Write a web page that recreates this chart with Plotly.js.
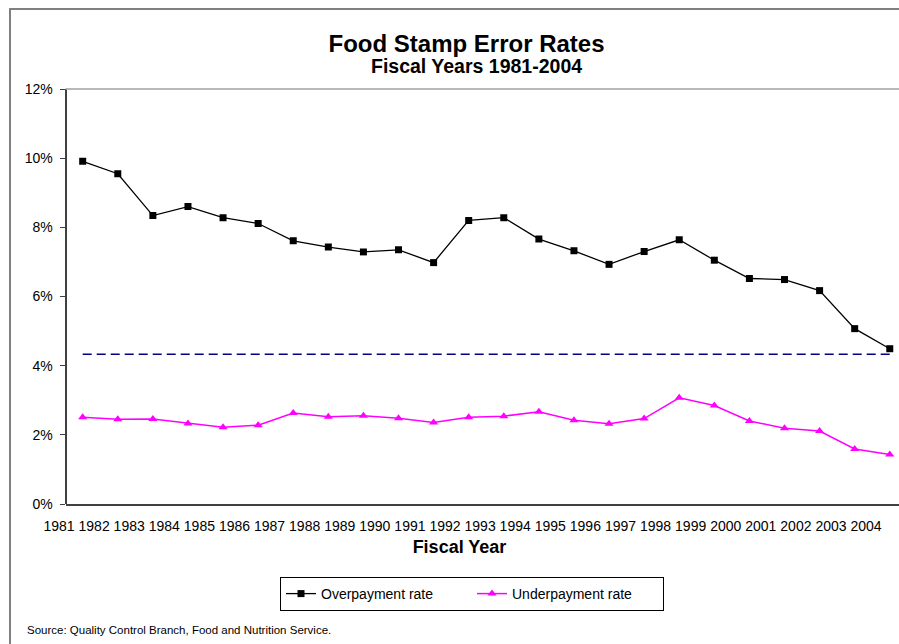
<!DOCTYPE html>
<html>
<head>
<meta charset="utf-8">
<script src="https://cdn.plot.ly/plotly-3.0.1.min.js"></script>
<style>html,body{margin:0;padding:0;background:#fff;}#chart{width:899px;height:644px;}</style>
</head>
<body>
<div id="chart"></div>
<script>
// ---- data ----
var years = [1981,1982,1983,1984,1985,1986,1987,1988,1989,1990,1991,1992,
             1993,1994,1995,1996,1997,1998,1999,2000,2001,2002,2003,2004];
var overpayment = [9.91,9.55,8.34,8.60,8.28,8.11,7.61,7.43,7.29,7.35,6.98,8.20,
                   8.28,7.66,7.32,6.93,7.30,7.64,7.05,6.52,6.49,6.17,5.07,4.49];
var underpayment = [2.51,2.45,2.46,2.33,2.22,2.28,2.63,2.52,2.55,2.48,2.36,2.51,
                    2.54,2.67,2.42,2.32,2.47,3.07,2.85,2.40,2.19,2.11,1.59,1.43];
var referenceLevel = 4.33;
var tickLabels = years.map(String);
var yTicks = [0,2,4,6,8,10,12];
var yTickText = ['0%','2%','4%','6%','8%','10%','12%'];

var font = "Liberation Sans, Arial, sans-serif";

var traces = [
  {x: [years[0], years[years.length-1]], y: [referenceLevel, referenceLevel],
   mode: 'lines', line: {color: '#000080', width: 1.5, dash: '9px,5px'},
   showlegend: false, hoverinfo: 'skip'},
  {x: years, y: overpayment, name: 'Overpayment rate', mode: 'lines+markers',
   line: {color: '#000000', width: 1.3},
   marker: {symbol: 'square', size: 7, color: '#000000'}},
  {x: years, y: underpayment, name: 'Underpayment rate', mode: 'lines+markers',
   line: {color: '#FF00FF', width: 1.5},
   marker: {symbol: 'triangle-up', size: 8, color: '#FF00FF'}},
  {x: [years[0]], y: [0], xaxis: 'x2', yaxis: 'y', mode: 'markers',
   marker: {opacity: 0}, showlegend: false, hoverinfo: 'skip'}
];

var layout = {
  width: 899, height: 644,
  margin: {l: 10, r: 0, t: 89, b: 140},
  paper_bgcolor: '#ffffff', plot_bgcolor: 'rgba(0,0,0,0)',
  font: {family: font, color: '#000000'},
  showlegend: true,
  xaxis: {
    domain: [0.06243, 1], range: [1980.51, 2004.263],
    showgrid: false, zeroline: false, showticklabels: false, ticks: '',
    showline: true, linecolor: '#404040', linewidth: 2
  },
  xaxis2: {
    domain: [0.01125, 1], range: [1979.213, 2004.263], anchor: 'y',
    showgrid: false, zeroline: false, showline: false, ticks: '',
    tickmode: 'array', tickvals: years.map(function(v){return v - 0.675;}), ticktext: tickLabels,
    tickangle: 0,
    tickfont: {family: font, size: 14, color: '#000'}, ticklabelstandoff: 12,
    title: {text: '<b>Fiscal Year</b>', font: {family: font, size: 18, color: '#000'}, standoff: 7}
  },
  yaxis: {
    anchor: 'free', position: 0.06243, range: [0, 12],
    tickmode: 'array', tickvals: yTicks, ticktext: yTickText,
    showgrid: false, zeroline: false,
    showline: true, linecolor: '#404040', linewidth: 2,
    ticks: 'outside', ticklen: 5, tickcolor: '#404040', tickwidth: 1,
    tickfont: {family: font, size: 14, color: '#000'}, ticklabelstandoff: 4
  },
  title: {text: '<b>Food Stamp Error Rates</b>', font: {family: font, size: 24, color: '#000'},
          x: 466.5/899, xanchor: 'center', xref: 'container', y: 1 - 35/644, yanchor: 'top', yref: 'container'},
  annotations: [
    {text: '<b>Fiscal Years 1981-2004</b>', xref: 'paper', yref: 'paper',
     x: (476-10)/889, y: (504-66)/415, xanchor: 'center', yanchor: 'middle', showarrow: false,
     font: {family: font, size: 19.5, color: '#000'}},
    {text: 'Source: Quality Control Branch, Food and Nutrition Service.', xref: 'paper', yref: 'paper',
     x: (25-10)/889, y: (504-630)/415, xanchor: 'left', yanchor: 'middle', showarrow: false,
     font: {family: font, size: 11.5, color: '#000'}}
  ],
  legend: {
    orientation: 'h', x: (280-10)/889, y: (504-577)/415, xanchor: 'left', yanchor: 'top',
    bordercolor: '#000000', borderwidth: 1, bgcolor: '#ffffff',
    font: {family: font, size: 14, color: '#000'}, entrywidth: 146, itemwidth: 30
  },
  shapes: [
    {type: 'line', xref: 'paper', yref: 'paper', x0: 0.06243, x1: 1.01, y0: 1, y1: 1,
     line: {color: '#a0a0a0', width: 1.5}},
    {type: 'line', xref: 'paper', yref: 'paper', x0: 0, x1: 0, y0: 1.1928, y1: -0.4,
     line: {color: '#808080', width: 2}},
    {type: 'line', xref: 'paper', yref: 'paper', x0: -0.001, x1: 1.01, y0: 1.1928, y1: 1.1928,
     line: {color: '#808080', width: 2}}
  ]
};

Plotly.newPlot('chart', traces, layout, {displayModeBar: false, staticPlot: true});
</script>
</body>
</html>
